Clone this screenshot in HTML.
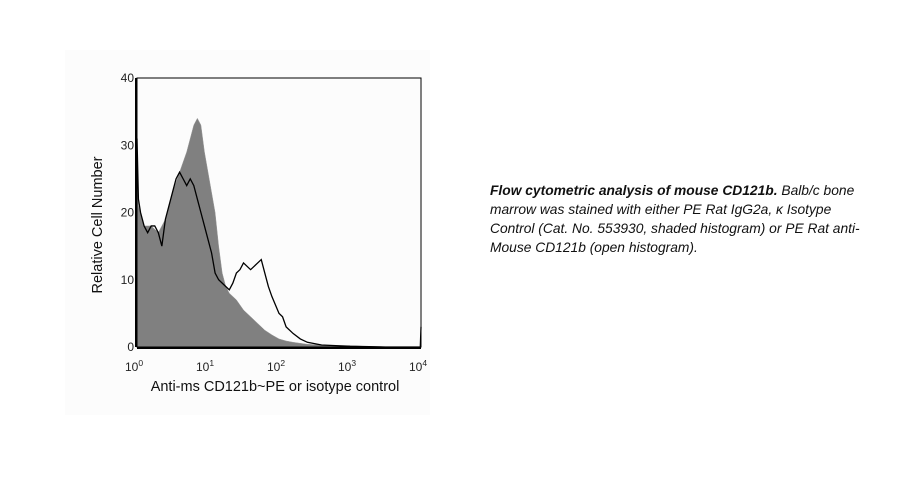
<!DOCTYPE html>
<html><head><meta charset="utf-8"><style>
body{margin:0;background:#fff;}
#wrap{position:relative;width:902px;height:498px;font-family:"Liberation Sans",sans-serif;}
#caption{position:absolute;left:490px;top:181px;width:372px;font-size:13.8px;line-height:19px;font-style:italic;color:#111;}
</style></head><body>
<div id="wrap">
<svg id="chart" width="902" height="498" style="position:absolute;left:0;top:0">
<rect x="65" y="50" width="365" height="365" fill="#fcfcfc"/>
</svg>
<div id="caption"><b>Flow cytometric analysis of mouse CD121b.</b> Balb/c bone marrow was stained with either PE Rat IgG2a, κ Isotype Control (Cat. No. 553930, shaded histogram) or PE Rat anti-Mouse CD121b (open histogram).</div>
</div>
<script>
const isoX=[0,0.02,0.1,0.2,0.3,0.4,0.5,0.6,0.7,0.75,0.8,0.85,0.9,0.95,1.0,1.05,1.1,1.15,1.2,1.25,1.3,1.4,1.5,1.6,1.7,1.8,1.9,2.0,2.1,2.2,2.4,2.6,2.8,3.0,3.2,3.5,4.0];
const isoY=[24,21,18,18,17,19,23,26,29,31,33,34,33,29,26,23,20,15,11,9,8,7,5.5,4.5,3.5,2.5,1.8,1.2,0.9,0.7,0.4,0.3,0.2,0.2,0.1,0,0];
const openX=[0,0.02,0.05,0.1,0.15,0.2,0.25,0.3,0.35,0.4,0.45,0.5,0.55,0.6,0.65,0.7,0.75,0.8,0.85,0.9,0.95,1.0,1.05,1.1,1.15,1.2,1.25,1.3,1.35,1.4,1.45,1.5,1.6,1.7,1.75,1.8,1.85,1.9,2.0,2.05,2.1,2.2,2.3,2.4,2.5,2.6,2.8,3.0,3.5,3.99,4.0];
const openY=[31,22,20,18,17,18,18,17,15,19,21,23,25,26,25,24,25,24,22,20,18,16,14,11,10,9.5,9,8.5,9.5,11,11.5,12.5,11.5,12.5,13,11,9,7.5,5,4.5,3,2,1.2,0.7,0.5,0.3,0.2,0.1,0,0,3];
const yTicks=[0,10,20,30,40];
const xTicks=[0,1,2,3,4];
const L=137,R=421,T=78,B=347;
const sx=v=>L+(R-L)*v/4, sy=v=>B-(B-T)*v/40;
const svg=document.getElementById('chart');const NS='http://www.w3.org/2000/svg';
function mk(t,a,txt){const e=document.createElementNS(NS,t);for(const k in a)e.setAttribute(k,a[k]);if(txt!==undefined)e.textContent=txt;svg.appendChild(e);return e;}
let d='M'+sx(0)+','+sy(0);isoX.forEach((x,i)=>d+=' L'+sx(x)+','+sy(isoY[i]));d+=' L'+sx(4)+','+sy(0)+'Z';
let p=mk('path',{d:d,fill:'#808080',stroke:'#999','stroke-width':0.5});


let d2='';openX.forEach((x,i)=>d2+=(i?' L':'M')+sx(x)+','+sy(openY[i]));
p=mk('path',{d:d2,fill:'none',stroke:'#000','stroke-width':1.3});


p=mk('rect',{x:L,y:T,width:R-L,height:B-T,fill:'none',stroke:'#000','stroke-width':1});


p=mk('line',{x1:L-1,y1:T,x2:L-1,y2:B,stroke:'#000','stroke-width':2});


p=mk('line',{x1:L,y1:B+1,x2:R,y2:B+1,stroke:'#000','stroke-width':2});


yTicks.forEach(v=>{const t=mk('text',{x:L-3,y:sy(v)+4,'text-anchor':'end','font-size':12,fill:'#222'},String(v));

});
xTicks.forEach(v=>{const t=mk('text',{x:sx(v)-3,y:371,'text-anchor':'middle','font-size':12,fill:'#222'});


const a=document.createElementNS(NS,'tspan');a.textContent='10';t.appendChild(a);
const b=document.createElementNS(NS,'tspan');b.setAttribute('dy','-5');b.setAttribute('font-size','8.5');b.textContent=String(v);t.appendChild(b);});
p=mk('text',{x:275,y:391,'text-anchor':'middle','font-size':14.5,fill:'#111'},'Anti-ms CD121b~PE or isotype control');


p=mk('text',{x:0,y:0,transform:'translate(102,225) rotate(-90)','text-anchor':'middle','font-size':14.5,fill:'#111'},'Relative Cell Number');


</script>
</body></html>
